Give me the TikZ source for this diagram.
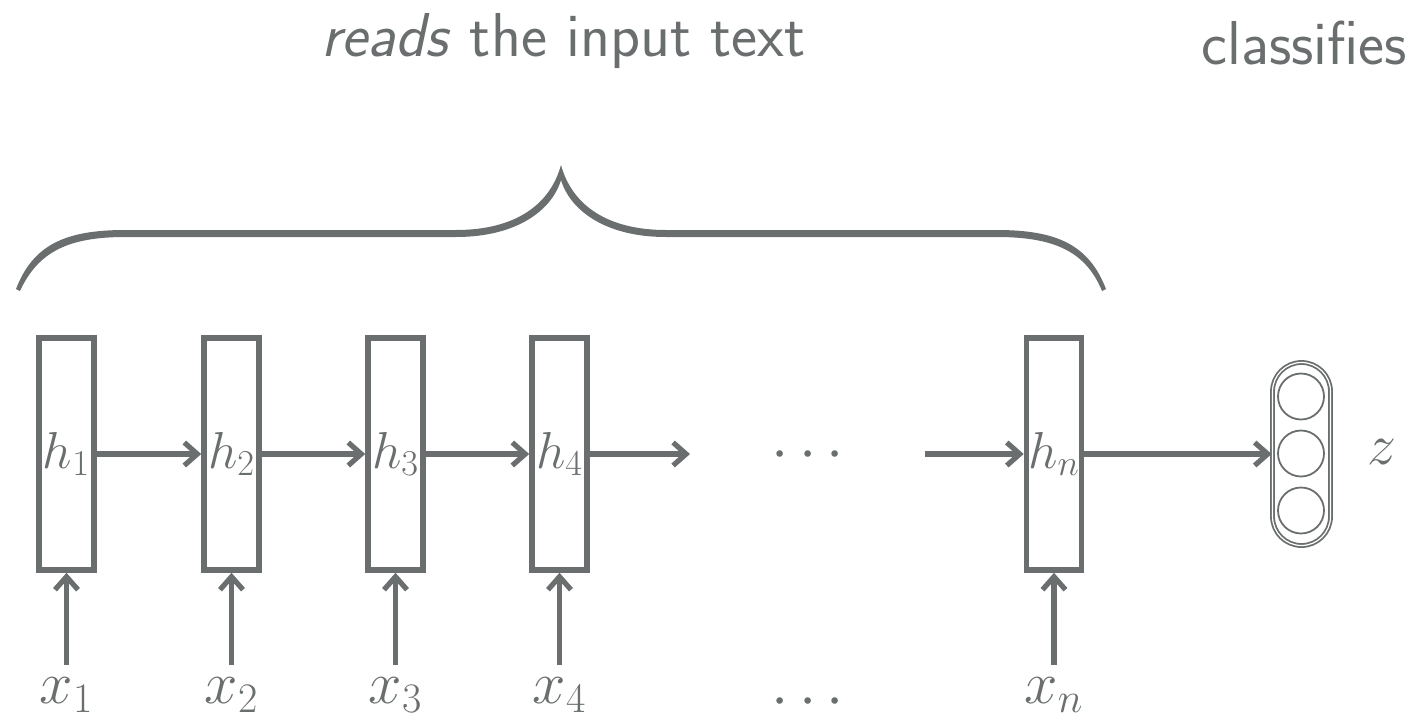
\RequirePackage{fix-cm}
\documentclass[tikz,border=0pt]{standalone}
\usetikzlibrary{arrows.meta}
\definecolor{ink}{RGB}{106,110,110}
\begin{document}
\begin{tikzpicture}[x=0.5pt,y=-0.5pt,
  cell/.style={draw=ink, line width=2.8pt, minimum width=27.5pt, minimum height=116pt, inner sep=0pt, font=\fontsize{26}{30}\selectfont, text=ink},
  arr/.style={draw=ink, line width=2.6pt, -{Straight Barb[length=6.5pt,width=11.5pt]}},
  xlab/.style={anchor=base, text height=19pt, inner sep=0pt, font=\fontsize{30}{34}\selectfont, text=ink},
  dotlab/.style={anchor=base, inner sep=0pt, font=\fontsize{31}{34}\selectfont, text=ink},
  unit/.style={circle, draw=ink, line width=0.9pt, minimum size=23pt, inner sep=0pt},
  clfbox/.style={draw=ink, double=white, line width=0.9pt, double distance=0.6pt, rounded corners=14.5pt, minimum width=29pt, minimum height=91.5pt, inner sep=0pt},
  head/.style={anchor=base west, inner sep=0pt, font=\sffamily\fontsize{31}{36}\selectfont, text=ink}
]
\useasboundingbox (0,0) rectangle (1408,718);

% headings
\node[head] (title) at (321,56) {\textsl{reads} the input text};
\node[head] (cls) at (1201,64) {classifies};

% brace
\fill[ink] (16,289) .. controls (33,245) and (65,230) .. (125,230) -- (456,230)
  .. controls (515,230) and (550,205) .. (561,165)
  .. controls (572,205) and (607,230) .. (666,230) -- (997,230)
  .. controls (1057,230) and (1089,245) .. (1106,289)
  -- (1102,291) .. controls (1086,252) and (1055,237) .. (997,237) -- (666,237)
  .. controls (605,237) and (570,210) .. (561,180)
  .. controls (552,210) and (517,237) .. (456,237) -- (125,237)
  .. controls (68,237) and (38,252) .. (20,291) -- cycle;

% hidden-state cells
\node[cell] (h1) at (66.5,454) {$h_1$};
\node[cell] (h2) at (231.5,454) {$h_2$};
\node[cell] (h3) at (395.5,454) {$h_3$};
\node[cell] (h4) at (559.5,454) {$h_4$};
\node[cell] (hn) at (1054,454) {$h_n$};

% inputs
\node[xlab] (x1) at (66.5,703) {$x_1$};
\node[xlab] (x2) at (231.5,703) {$x_2$};
\node[xlab] (x3) at (395.5,703) {$x_3$};
\node[xlab] (x4) at (559.5,703) {$x_4$};
\node[xlab] (xn) at (1054,703) {$x_n$};

% dots
\node[dotlab] (dtop) at (808,469) {$\cdots$};
\node[dotlab] (dbot) at (808,716) {$\cdots$};
\coordinate (d1) at (690,454);
\coordinate (d2) at (925,454);

% classifier
\node[clfbox] (clf) at (1301.5,454) {};
\node[unit] (c1) at (1301,396.5) {};
\node[unit] (c2) at (1301,453.5) {};
\node[unit] (c3) at (1301,510.5) {};
\node[font=\fontsize{29}{34}\selectfont, text=ink, inner sep=0pt] (z) at (1382,452) {$z$};

% connectors
\draw[arr] (h1.east) -- (h2.west);
\draw[arr] (h2.east) -- (h3.west);
\draw[arr] (h3.east) -- (h4.west);
\draw[arr] (h4.east) -- (d1);
\draw[arr] (d2) -- (hn.west);
\draw[arr] (hn.east) -- (clf.west);
\draw[arr] (x1.north) -- (h1.south);
\draw[arr] (x2.north) -- (h2.south);
\draw[arr] (x3.north) -- (h3.south);
\draw[arr] (x4.north) -- (h4.south);
\draw[arr] (xn.north) -- (hn.south);
\end{tikzpicture}
\end{document}
